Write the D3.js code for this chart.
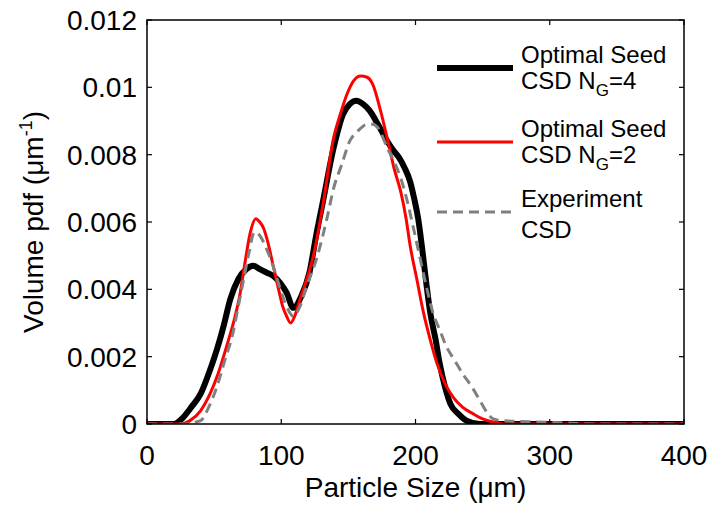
<!DOCTYPE html>
<html>
<head>
<meta charset="utf-8">
<script src="https://cdn.jsdelivr.net/npm/d3@7"></script>
<style>
  body { margin: 0; background: #fff; }
  text { font-family: "Liberation Sans", Arial, sans-serif; fill: #000; }
</style>
</head>
<body>
<script>
// particle size (um) and volume pdf values
const sizeNG4 = [0, 20, 27, 33, 40, 46, 52, 57, 62, 68, 74, 79, 84, 89, 94, 99, 104, 109, 115, 121, 126, 131, 139, 146, 151, 156, 161, 166, 172, 179, 184, 188, 192, 196, 199, 202, 205, 208, 211, 215, 218, 222, 226, 232, 238, 248, 300, 400];
const pdfNG4  = [0, 0, 0.0002, 0.0005, 0.0009, 0.0015, 0.0022, 0.0029, 0.0037, 0.0043, 0.0046, 0.0047, 0.0046, 0.0045, 0.0044, 0.0042, 0.0039, 0.00345, 0.0038, 0.0045, 0.0056, 0.0066, 0.0082, 0.0092, 0.0095, 0.0096, 0.0095, 0.0093, 0.0089, 0.0084, 0.0081, 0.0079, 0.0076, 0.0072, 0.0067, 0.0061, 0.0052, 0.0042, 0.0033, 0.0025, 0.0018, 0.0011, 0.0006, 0.0003, 0.0001, 0, 0, 0];

const sizeNG2 = [0, 25, 32, 40, 47, 53, 60, 65, 69, 73, 77, 81, 84, 87, 90, 94, 98, 101, 104, 107, 110, 114, 119, 124, 131, 139, 144, 149, 154, 159, 164, 168, 174, 180, 184, 189, 193, 196, 201, 206, 211, 216, 222, 228, 235, 243, 250, 258, 265, 300, 400];
const pdfNG2  = [0, 0, 0.0001, 0.0004, 0.0009, 0.0015, 0.0024, 0.0031, 0.0038, 0.0048, 0.0057, 0.0061, 0.0060, 0.0058, 0.0054, 0.0047, 0.0040, 0.0035, 0.0032, 0.0030, 0.0032, 0.0037, 0.0043, 0.0050, 0.0065, 0.0085, 0.0092, 0.0098, 0.0102, 0.01034, 0.0103, 0.0101, 0.0093, 0.0083, 0.0076, 0.0069, 0.0061, 0.0053, 0.0043, 0.0033, 0.0025, 0.0018, 0.0012, 0.0008, 0.0005, 0.0003, 0.00015, 0.00006, 0, 0, 0];

const sizeExp = [0, 30, 35, 40, 46, 52, 58, 64, 68, 72, 76, 80, 84, 89, 93, 97, 101, 105, 109, 114, 119, 127, 134, 139, 145, 151, 157, 164, 168, 172, 179, 184, 189, 194, 198, 203, 208, 213, 218, 223, 229, 235, 242, 248, 254, 258, 265, 300, 340, 400];
const pdfExp  = [0, 0, 0.00005, 0.0001, 0.0005, 0.0011, 0.0019, 0.0027, 0.0035, 0.0043, 0.0051, 0.0057, 0.0056, 0.0052, 0.0048, 0.0043, 0.0038, 0.0034, 0.0032, 0.0035, 0.0041, 0.0050, 0.0061, 0.0070, 0.0077, 0.0084, 0.0087, 0.0089, 0.0089, 0.0088, 0.0082, 0.0078, 0.0073, 0.0066, 0.0059, 0.0050, 0.0041, 0.0033, 0.0028, 0.0023, 0.0019, 0.0015, 0.0011, 0.0007, 0.0003, 0.00015, 0.0001, 0.00005, 0, 0];

const xTicks = [0, 100, 200, 300, 400];
const yTicks = [0, 0.002, 0.004, 0.006, 0.008, 0.01, 0.012];

const series = [
  { name: ["Optimal Seed", "CSD N", "G", "=4"], x: sizeNG4, y: pdfNG4, color: "#000000", width: 6, dash: null },
  { name: ["Optimal Seed", "CSD N", "G", "=2"], x: sizeNG2, y: pdfNG2, color: "#ff0000", width: 3, dash: null },
  { name: ["Experiment", "CSD", "", ""], x: sizeExp, y: pdfExp, color: "#808080", width: 3, dash: "10,6" }
];

const W = 714, H = 509;
const pLeft = 147, pRight = 684, pTop = 20, pBottom = 424;

const svg = d3.select("body")
    .append("svg")
    .attr("width", W)
    .attr("height", H);

const x = d3.scaleLinear().domain([0, 400]).range([pLeft, pRight]);
const y = d3.scaleLinear().domain([0, 0.012]).range([pBottom, pTop]);

// curves
svg.append("clipPath").attr("id", "clip")
    .append("rect")
    .attr("x", pLeft).attr("y", pTop - 5)
    .attr("width", pRight - pLeft).attr("height", pBottom - pTop + 5);

series.forEach(function (s) {
    const pts = s.x.map(function (v, i) { return [v, s.y[i]]; });
    const line = d3.line()
        .x(function (d) { return x(d[0]); })
        .y(function (d) { return y(d[1]); })
        .curve(d3.curveMonotoneX);
    svg.append("path")
        .attr("clip-path", "url(#clip)")
        .attr("fill", "none")
        .attr("stroke", s.color)
        .attr("stroke-width", s.width)
        .attr("stroke-dasharray", s.dash)
        .attr("stroke-linejoin", "round")
        .attr("d", line(pts));
});

// box + inward ticks on all sides
const axisG = svg.append("g");
axisG.append("rect")
    .attr("x", pLeft).attr("y", pTop)
    .attr("width", pRight - pLeft).attr("height", pBottom - pTop)
    .attr("fill", "none").attr("stroke", "#000").attr("stroke-width", 1.5);

xTicks.forEach(function (t) {
    axisG.append("line").attr("x1", x(t)).attr("x2", x(t)).attr("y1", pBottom).attr("y2", pBottom - 5)
        .attr("stroke", "#000").attr("stroke-width", 1.2);
    axisG.append("line").attr("x1", x(t)).attr("x2", x(t)).attr("y1", pTop).attr("y2", pTop + 5)
        .attr("stroke", "#000").attr("stroke-width", 1.2);
    axisG.append("text")
        .attr("x", x(t)).attr("y", pBottom + 41)
        .attr("text-anchor", "middle")
        .attr("font-size", 28)
        .text(t);
});

yTicks.forEach(function (t) {
    axisG.append("line").attr("x1", pLeft).attr("x2", pLeft + 5).attr("y1", y(t)).attr("y2", y(t))
        .attr("stroke", "#000").attr("stroke-width", 1.2);
    axisG.append("line").attr("x1", pRight).attr("x2", pRight - 5).attr("y1", y(t)).attr("y2", y(t))
        .attr("stroke", "#000").attr("stroke-width", 1.2);
    axisG.append("text")
        .attr("x", pLeft - 10).attr("y", y(t) + 10)
        .attr("text-anchor", "end")
        .attr("font-size", 28)
        .text(t === 0 ? "0" : String(+t.toFixed(3)));
});

// axis titles
svg.append("text")
    .attr("x", (pLeft + pRight) / 2).attr("y", 497)
    .attr("text-anchor", "middle")
    .attr("font-size", 28)
    .text("Particle Size (\u03bcm)");

const yl = svg.append("text")
    .attr("transform", "translate(43," + ((pTop + pBottom) / 2) + ") rotate(-90)")
    .attr("text-anchor", "middle")
    .attr("font-size", 28);
yl.append("tspan").text("Volume pdf (\u03bcm");
yl.append("tspan").attr("font-size", 18).attr("dy", -11).text("-1");
yl.append("tspan").attr("dy", 11).text(")");

// legend
const legY = [68, 142, 212];
series.forEach(function (s, i) {
    const g = svg.append("g");
    g.append("line")
        .attr("x1", 437).attr("x2", 513)
        .attr("y1", legY[i]).attr("y2", legY[i])
        .attr("stroke", s.color)
        .attr("stroke-width", s.width)
        .attr("stroke-dasharray", s.dash);
    g.append("text")
        .attr("x", 521).attr("y", legY[i] - 5)
        .attr("font-size", 24)
        .text(s.name[0]);
    const t2 = g.append("text")
        .attr("x", 521).attr("y", legY[i] + (i === 2 ? 26 : 21))
        .attr("font-size", 24);
    t2.append("tspan").text(s.name[1]);
    if (s.name[2]) {
        t2.append("tspan").attr("font-size", 17).attr("dy", 7).text(s.name[2]);
        t2.append("tspan").attr("dy", -7).text(s.name[3]);
    }
});
</script>
</body>
</html>
